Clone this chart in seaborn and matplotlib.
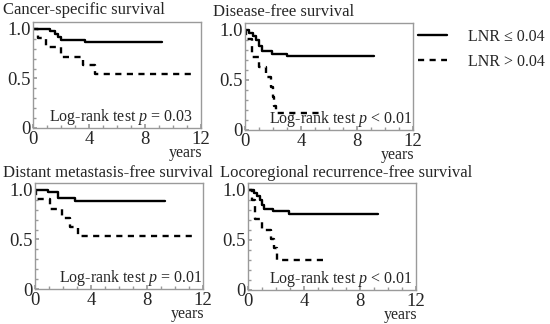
import numpy as np
import pandas as pd
import seaborn as sns
import matplotlib.pyplot as plt
from matplotlib.ticker import MultipleLocator

# Kaplan-Meier step points (time in years, survival)
grp_lo = 'LNR ≤ 0.04'
grp_hi = 'LNR > 0.04'

css_t_lo = [0, 1.2, 1.55, 1.8, 2.0, 3.7, 9.2]
css_s_lo = [1.0, 0.975, 0.95, 0.92, 0.89, 0.865, 0.865]
css_t_hi = [0, 0.35, 0.95, 2.0, 3.6, 4.4, 11.4]
css_s_hi = [1.0, 0.91, 0.82, 0.72, 0.64, 0.55, 0.55]

dfs_t_lo = [0, 0.3, 0.55, 0.8, 1.0, 1.2, 1.9, 3.0, 9.2]
dfs_s_lo = [1.0, 0.97, 0.94, 0.90, 0.84, 0.79, 0.76, 0.74, 0.74]
dfs_t_hi = [0, 0.1, 0.5, 1.0, 1.5, 1.85, 2.0, 2.1, 2.2, 5.4]
dfs_s_hi = [1.0, 0.91, 0.73, 0.63, 0.53, 0.43, 0.33, 0.24, 0.17, 0.17]

dmfs_t_lo = [0, 0.95, 1.67, 2.86, 9.3]
dmfs_s_lo = [1.0, 0.975, 0.915, 0.885, 0.885]
dmfs_t_hi = [0, 0.05, 1.07, 1.9, 2.5, 3.1, 11.5]
dmfs_s_hi = [1.0, 0.91, 0.81, 0.72, 0.63, 0.54, 0.54]

lrfs_t_lo = [0, 0.4, 0.65, 0.85, 1.0, 1.15, 1.75, 2.9, 9.3]
lrfs_s_lo = [1.0, 0.97, 0.94, 0.90, 0.85, 0.81, 0.79, 0.755, 0.755]
lrfs_t_hi = [0, 0.3, 0.5, 1.0, 1.65, 1.85, 2.1, 5.4]
lrfs_s_hi = [1.0, 0.90, 0.71, 0.60, 0.51, 0.42, 0.30, 0.30]

titles = ['Cancer-specific survival', 'Disease-free survival',
          'Distant metastasis-free survival', 'Locoregional recurrence-free survival']
pvals = ['= 0.03', '< 0.01', '= 0.01', '< 0.01']

panels = [(css_t_lo, css_s_lo, css_t_hi, css_s_hi),
          (dfs_t_lo, dfs_s_lo, dfs_t_hi, dfs_s_hi),
          (dmfs_t_lo, dmfs_s_lo, dmfs_t_hi, dmfs_s_hi),
          (lrfs_t_lo, lrfs_s_lo, lrfs_t_hi, lrfs_s_hi)]

sns.set_theme(style='ticks')
plt.rcParams['font.family'] = ['Liberation Serif', 'DejaVu Serif']
plt.rcParams['mathtext.fontset'] = 'custom'
plt.rcParams['mathtext.rm'] = 'Liberation Serif'
plt.rcParams['mathtext.it'] = 'Liberation Serif:italic'

W, H = 550, 324
fig = plt.figure(figsize=(5.5, 3.24), dpi=100)

# axes boxes in pixels: left, top, right, bottom
boxes = [(33, 22, 201, 128), (245, 23, 413, 130), (35, 183, 203, 289), (248, 183, 416, 290)]
title_pos = [(3, 10), (213, 12), (3, 173), (220, 173)]
ptext_x = [0.95, 1.0, 1.0, 0.98]

gray = '#9a9a9a'
axes = []
for i, (l, t, r, b) in enumerate(boxes):
    ax = fig.add_axes([l / W, 1 - b / H, (r - l) / W, (b - t) / H])
    axes.append(ax)
    tl, sl, th, sh = panels[i]
    df = pd.DataFrame({
        'time': list(tl) + list(th),
        'survival': list(sl) + list(sh),
        'group': [grp_lo] * len(tl) + [grp_hi] * len(th),
    })
    sns.lineplot(data=df, x='time', y='survival', style='group',
                 style_order=[grp_lo, grp_hi],
                 dashes={grp_lo: '', grp_hi: (2.6, 2.3)},
                 color='black', linewidth=1.7, drawstyle='steps-post',
                 estimator=None, sort=False, legend=(i == 1), ax=ax)
    ax.set_xlim(0, 12)
    ax.set_ylim(0, 1.07)
    ax.set_xticks([0, 4, 8, 12])
    ax.set_yticks([0, 0.5, 1.0])
    ax.set_yticklabels(['0', '0.5', '1.0'])
    ax.xaxis.set_minor_locator(MultipleLocator(1))
    ax.yaxis.set_minor_locator(MultipleLocator(0.1))
    ax.tick_params(which='both', direction='in', color=gray, labelsize=13.5)
    ax.tick_params(axis='y', pad=1.5)
    ax.tick_params(axis='x', pad=2)
    ax.tick_params(which='major', length=3)
    ax.tick_params(which='minor', length=2)
    for s in ax.spines.values():
        s.set_color(gray)
        s.set_linewidth(1.0)
    ax.set_xlabel('')
    ax.set_ylabel('')
    ax.text(1.01, -0.235, 'years', transform=ax.transAxes, ha='right', va='center', fontsize=11.5)
    ax.text(ptext_x[i], 0.1, 'Log-rank test $p$ ' + pvals[i], transform=ax.transAxes,
            ha='right', va='center', fontsize=11.5)
    fig.text(title_pos[i][0] / W, 1 - title_pos[i][1] / H, titles[i],
             ha='left', va='center', fontsize=12)

leg = axes[1].get_legend()
handles = leg.legend_handles
labels = [tx.get_text() for tx in leg.get_texts()]
leg.remove()
for h in handles:
    h.set_color('black')
    h.set_linewidth(1.7)
fig.legend(handles, labels, loc='upper left', bbox_to_anchor=(418 / W, 1 - 29 / H),
           frameon=False, fontsize=11.5, handlelength=1.8, handletextpad=1.3,
           labelspacing=0.55, borderpad=0, borderaxespad=0)

fig.savefig('out.png', dpi=100)
